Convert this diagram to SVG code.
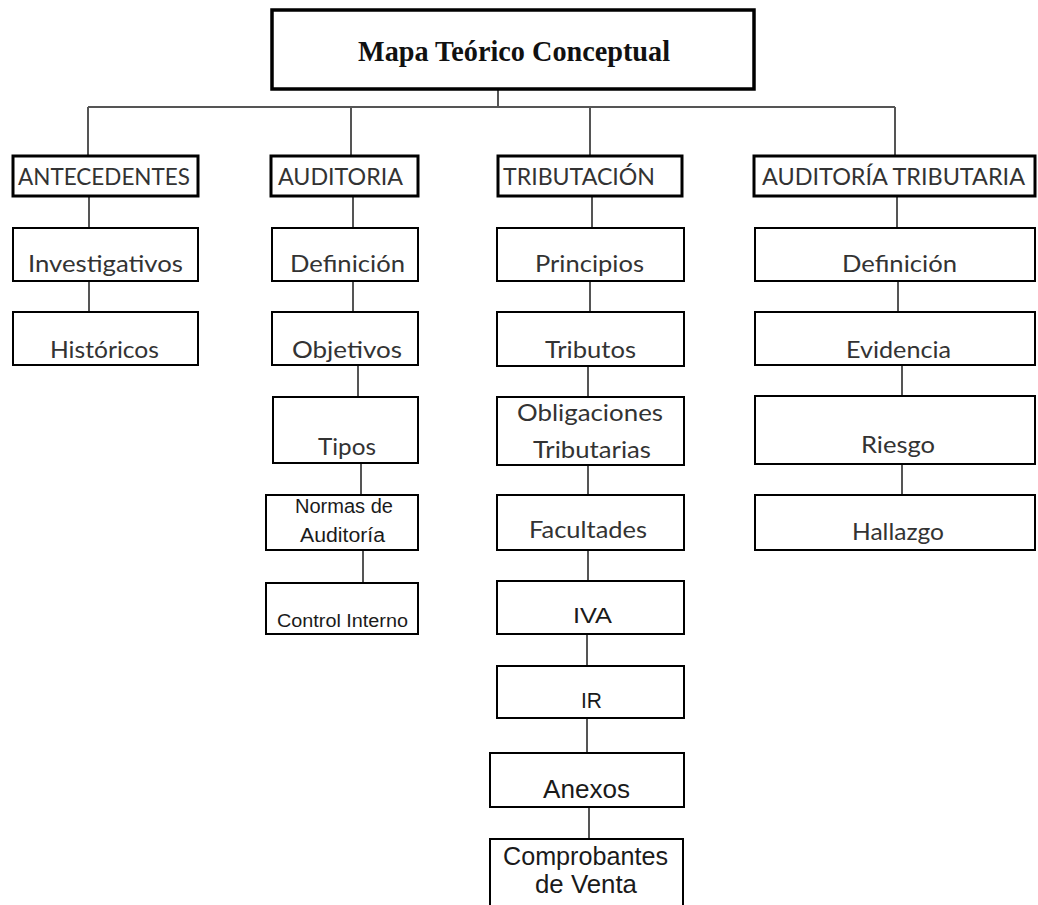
<svg xmlns="http://www.w3.org/2000/svg" width="1038" height="905" viewBox="0 0 1038 905">
<style>
.bg{fill:#fff}
.n0 rect{fill:#fff;stroke:#000;stroke-width:3.5}
.n1 rect{fill:#fff;stroke:#000;stroke-width:3}
.n2 rect{fill:#fff;stroke:#000;stroke-width:2}
.c line{stroke:#555;stroke-width:2}
.tt{font-family:"Liberation Serif","Times New Roman",serif;font-weight:bold;font-size:29px;fill:#111}
.t{font-family:Lato,"Open Sans",sans-serif;font-size:23px;fill:#333}
.a{font-family:"Liberation Sans",Arial,sans-serif;fill:#1a1a1a}
</style>
<rect class="bg" x="0" y="0" width="1038" height="905"/>
<g id="connectors" class="c">
<line x1="498" y1="90" x2="498" y2="107"/>
<line x1="88" y1="107" x2="895" y2="107"/>
<line x1="88" y1="107" x2="88" y2="155"/>
<line x1="351" y1="107" x2="351" y2="155"/>
<line x1="590" y1="107" x2="590" y2="155"/>
<line x1="895" y1="107" x2="895" y2="155"/>
<line x1="89" y1="197" x2="89" y2="227"/>
<line x1="89" y1="282" x2="89" y2="311"/>
<line x1="353" y1="197" x2="353" y2="227"/>
<line x1="353" y1="282" x2="353" y2="311"/>
<line x1="358" y1="366" x2="358" y2="396"/>
<line x1="361" y1="463" x2="361" y2="494"/>
<line x1="363" y1="550" x2="363" y2="582"/>
<line x1="592" y1="197" x2="592" y2="227"/>
<line x1="590" y1="281" x2="590" y2="312"/>
<line x1="588" y1="366" x2="588" y2="396"/>
<line x1="588" y1="465" x2="588" y2="494"/>
<line x1="588" y1="550" x2="588" y2="580"/>
<line x1="587" y1="634" x2="587" y2="665"/>
<line x1="587" y1="718" x2="587" y2="752"/>
<line x1="589" y1="807" x2="589" y2="838"/>
<line x1="897" y1="197" x2="897" y2="228"/>
<line x1="898" y1="281" x2="898" y2="312"/>
<line x1="902" y1="365" x2="902" y2="395"/>
<line x1="902" y1="464" x2="902" y2="494"/>
</g>
<g id="title" class="n0"><rect x="272" y="10" width="482" height="79"/><text class="tt" x="358" y="61" textLength="312" lengthAdjust="spacingAndGlyphs">Mapa Teórico Conceptual</text></g>
<g id="antecedentes" class="n1"><rect x="13" y="156" width="185" height="40"/><text class="t" x="18" y="185" textLength="172" lengthAdjust="spacingAndGlyphs">ANTECEDENTES</text></g>
<g id="auditoria" class="n1"><rect x="271" y="156" width="147" height="40"/><text class="t" x="278" y="185" textLength="125" lengthAdjust="spacingAndGlyphs">AUDITORIA</text></g>
<g id="tributacion" class="n1"><rect x="498" y="156" width="184" height="40"/><text class="t" x="503" y="185" textLength="152" lengthAdjust="spacingAndGlyphs">TRIBUTACIÓN</text></g>
<g id="auditoria-tributaria" class="n1"><rect x="754" y="156" width="281" height="40"/><text class="t" x="762" y="185" textLength="263" lengthAdjust="spacingAndGlyphs">AUDITORÍA TRIBUTARIA</text></g>
<g id="investigativos" class="n2"><rect x="13" y="228" width="185" height="53"/><text class="t" x="28" y="272" textLength="155" lengthAdjust="spacingAndGlyphs">Investigativos</text></g>
<g id="historicos" class="n2"><rect x="13" y="312" width="185" height="53"/><text class="t" x="50" y="358" textLength="109" lengthAdjust="spacingAndGlyphs">Históricos</text></g>
<g id="aud-definicion" class="n2"><rect x="272" y="228" width="146" height="53"/><text class="t" x="290" y="272" textLength="115" lengthAdjust="spacingAndGlyphs">Definición</text></g>
<g id="objetivos" class="n2"><rect x="272" y="312" width="146" height="53"/><text class="t" x="292" y="358" textLength="110" lengthAdjust="spacingAndGlyphs">Objetivos</text></g>
<g id="tipos" class="n2"><rect x="273" y="397" width="145" height="66"/><text class="t" x="318" y="455" textLength="58" lengthAdjust="spacingAndGlyphs">Tipos</text></g>
<g id="normas" class="n2"><rect x="266" y="495" width="152" height="55"/><text class="a" font-size="20" x="295" y="513" textLength="98" lengthAdjust="spacingAndGlyphs">Normas de</text><text class="a" font-size="20" x="300" y="542" textLength="85" lengthAdjust="spacingAndGlyphs">Auditoría</text></g>
<g id="control-interno" class="n2"><rect x="266" y="583" width="152" height="51"/><text class="a" font-size="18" x="277" y="627" textLength="131" lengthAdjust="spacingAndGlyphs">Control Interno</text></g>
<g id="principios" class="n2"><rect x="497" y="228" width="187" height="53"/><text class="t" x="535" y="272" textLength="109" lengthAdjust="spacingAndGlyphs">Principios</text></g>
<g id="tributos" class="n2"><rect x="497" y="312" width="187" height="54"/><text class="t" x="545" y="358" textLength="91" lengthAdjust="spacingAndGlyphs">Tributos</text></g>
<g id="obligaciones" class="n2"><rect x="497" y="397" width="187" height="68"/><text class="t" x="517" y="421" textLength="146" lengthAdjust="spacingAndGlyphs">Obligaciones</text><text class="t" x="533" y="458" textLength="118" lengthAdjust="spacingAndGlyphs">Tributarias</text></g>
<g id="facultades" class="n2"><rect x="497" y="495" width="187" height="55"/><text class="t" x="529" y="538" textLength="118" lengthAdjust="spacingAndGlyphs">Facultades</text></g>
<g id="iva" class="n2"><rect x="497" y="581" width="187" height="53"/><text class="a" font-size="22" x="573" y="623" textLength="39" lengthAdjust="spacingAndGlyphs">IVA</text></g>
<g id="ir" class="n2"><rect x="497" y="666" width="187" height="52"/><text class="a" font-size="22" x="581" y="708" textLength="21" lengthAdjust="spacingAndGlyphs">IR</text></g>
<g id="anexos" class="n2"><rect x="490" y="753" width="194" height="54"/><text class="a" font-size="25" x="543" y="798" textLength="87" lengthAdjust="spacingAndGlyphs">Anexos</text></g>
<g id="comprobantes" class="n2"><rect x="490" y="839" width="193" height="80"/><text class="a" font-size="25" x="503" y="865" textLength="165" lengthAdjust="spacingAndGlyphs">Comprobantes</text><text class="a" font-size="25" x="535" y="893" textLength="102" lengthAdjust="spacingAndGlyphs">de Venta</text></g>
<g id="at-definicion" class="n2"><rect x="755" y="228" width="280" height="53"/><text class="t" x="842" y="272" textLength="115" lengthAdjust="spacingAndGlyphs">Definición</text></g>
<g id="evidencia" class="n2"><rect x="755" y="312" width="280" height="53"/><text class="t" x="846" y="358" textLength="105" lengthAdjust="spacingAndGlyphs">Evidencia</text></g>
<g id="riesgo" class="n2"><rect x="755" y="396" width="280" height="68"/><text class="t" x="861" y="453" textLength="74" lengthAdjust="spacingAndGlyphs">Riesgo</text></g>
<g id="hallazgo" class="n2"><rect x="755" y="495" width="280" height="55"/><text class="t" x="852" y="540" textLength="92" lengthAdjust="spacingAndGlyphs">Hallazgo</text></g>
</svg>
